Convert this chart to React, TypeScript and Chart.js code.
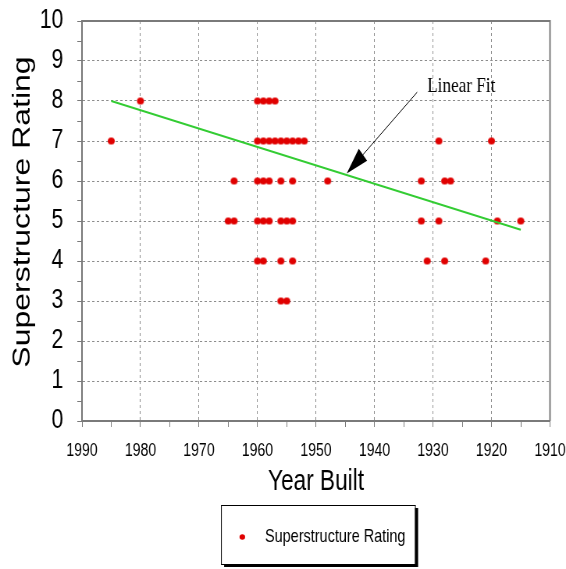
import { useEffect, useRef } from 'react';
import { Chart, registerables } from 'chart.js';

Chart.register(...registerables);

// ---- data ----
const yearBuilt = [
  1980, 1960, 1959, 1958, 1957,
  1985, 1960, 1959, 1958, 1957, 1956, 1955, 1954, 1953, 1952, 1929, 1920,
  1964, 1960, 1959, 1958, 1956, 1954, 1948, 1932, 1928, 1927,
  1965, 1964, 1960, 1959, 1958, 1956, 1955, 1954, 1932, 1929, 1919, 1915,
  1960, 1959, 1956, 1954, 1931, 1928, 1921,
  1956, 1955,
];
const rating = [
  8, 8, 8, 8, 8,
  7, 7, 7, 7, 7, 7, 7, 7, 7, 7, 7, 7,
  6, 6, 6, 6, 6, 6, 6, 6, 6, 6,
  5, 5, 5, 5, 5, 5, 5, 5, 5, 5, 5, 5,
  4, 4, 4, 4, 4, 4, 4,
  3, 3,
];
const fitYears = [1985, 1915];
const fitRatings = [8.0, 4.78];

const xMin = 1910;
const xMax = 1990;
const xMajorStep = 10;
const xMinorStep = 5;
const yMin = 0;
const yMax = 10;
const yMinorStep = 0.5;

const seriesLabel = 'Superstructure Rating';
const xTitle = 'Year Built';
const yTitle = 'Superstructure Rating';
const annotationText = 'Linear Fit';
const annotationTextAt = [1931, 8.22];
const arrowFrom = [1932.7, 8.22];
const arrowTo = [1944.75, 6.19];

// ---- rendering geometry (canvas is drawn wide, then shown narrower) ----
const DISPLAY_W = 566;
const DISPLAY_H = 569;
const SQUEEZE = 0.7807;
const CANVAS_W = Math.round(DISPLAY_W / SQUEEZE);
const CANVAS_H = DISPLAY_H;

const SANS = '"Liberation Sans", Arial, Helvetica, sans-serif';
const SERIF = '"Liberation Serif", "Times New Roman", serif';
const RED = '#e00000';
const GREEN = '#33cc33';
const AXIS_GRAY = '#7a7a7a';
const GRID_GRAY = '#8c8c8c';

function makeDot(r: number): HTMLCanvasElement {
  const rx = r / SQUEEZE;
  const ry = r;
  const c = document.createElement('canvas');
  c.width = Math.ceil(rx * 2 + 2);
  c.height = Math.ceil(ry * 2 + 2);
  const g = c.getContext('2d')!;
  g.fillStyle = RED;
  g.beginPath();
  g.ellipse(c.width / 2, c.height / 2, rx, ry, 0, 0, Math.PI * 2);
  g.fill();
  return c;
}

const framePlugin = {
  id: 'frame',
  afterDatasetsDraw(chart: any) {
    const { ctx, chartArea } = chart;
    ctx.save();
    ctx.strokeStyle = AXIS_GRAY;
    ctx.lineWidth = 2;
    ctx.beginPath();
    ctx.moveTo(chartArea.left, chartArea.top);
    ctx.lineTo(chartArea.right, chartArea.top);
    ctx.lineTo(chartArea.right, chartArea.bottom);
    ctx.stroke();
    ctx.restore();
  },
};

const yTitlePlugin = {
  id: 'yTitle',
  afterDraw(chart: any) {
    const { ctx } = chart;
    ctx.save();
    ctx.translate(29.5, 212);
    ctx.rotate(-Math.PI / 2);
    ctx.font = `32px ${SANS}`;
    ctx.fillStyle = '#000';
    ctx.textAlign = 'center';
    ctx.textBaseline = 'middle';
    ctx.fillText(yTitle, 0, 0);
    ctx.restore();
  },
};

const annotationPlugin = {
  id: 'fitAnnotation',
  afterDraw(chart: any) {
    const { ctx } = chart;
    const xs = chart.scales.x;
    const ys = chart.scales.y;
    const x1 = xs.getPixelForValue(arrowFrom[0]);
    const y1 = ys.getPixelForValue(arrowFrom[1]);
    const x2 = xs.getPixelForValue(arrowTo[0]);
    const y2 = ys.getPixelForValue(arrowTo[1]);
    const ang = Math.atan2(y2 - y1, x2 - x1);
    const headLen = 28;
    const headHalf = 8;
    const bx = x2 - Math.cos(ang) * headLen;
    const by = y2 - Math.sin(ang) * headLen;
    ctx.save();
    ctx.strokeStyle = '#000';
    ctx.lineWidth = 1;
    ctx.beginPath();
    ctx.moveTo(x1, y1);
    ctx.lineTo(bx, by);
    ctx.stroke();
    ctx.fillStyle = '#000';
    ctx.beginPath();
    ctx.moveTo(x2, y2);
    ctx.lineTo(bx + Math.cos(ang + Math.PI / 2) * headHalf, by + Math.sin(ang + Math.PI / 2) * headHalf);
    ctx.lineTo(bx + Math.cos(ang - Math.PI / 2) * headHalf, by + Math.sin(ang - Math.PI / 2) * headHalf);
    ctx.closePath();
    ctx.fill();
    ctx.font = `22px ${SERIF}`;
    ctx.textAlign = 'left';
    ctx.textBaseline = 'alphabetic';
    ctx.fillText(annotationText, xs.getPixelForValue(annotationTextAt[0]), ys.getPixelForValue(annotationTextAt[1]));
    ctx.restore();
  },
};

const legendPlugin = {
  id: 'boxLegend',
  afterDraw(chart: any) {
    const { ctx } = chart;
    const bx = 221 / SQUEEZE;
    const bw = (415 - 221) / SQUEEZE;
    const by = 505;
    const bh = 59;
    const label = chart.data.datasets[1].label;
    ctx.save();
    ctx.fillStyle = '#000';
    ctx.fillRect(bx + 4, by + 3, bw, bh);
    ctx.fillStyle = '#fff';
    ctx.fillRect(bx, by, bw, bh);
    ctx.strokeStyle = '#000';
    ctx.lineWidth = 1;
    ctx.strokeRect(bx + 0.5, by + 0.5, bw, bh);
    const cy = by + 32;
    ctx.fillStyle = RED;
    ctx.beginPath();
    ctx.ellipse(242.3 / SQUEEZE, cy, 2.8 / SQUEEZE, 2.8, 0, 0, Math.PI * 2);
    ctx.fill();
    ctx.fillStyle = '#000';
    ctx.font = `18.5px ${SANS}`;
    ctx.textAlign = 'left';
    ctx.textBaseline = 'middle';
    ctx.fillText(label, 265 / SQUEEZE, cy);
    ctx.restore();
  },
};

export default function App() {
  const canvasRef = useRef<HTMLCanvasElement | null>(null);

  useEffect(() => {
    const canvas = canvasRef.current;
    if (!canvas) return;
    const dot = makeDot(3.5);
    const points = yearBuilt.map((yr, i) => ({ x: yr, y: rating[i] }));
    const fit = fitYears.map((yr, i) => ({ x: yr, y: fitRatings[i] }));

    const chart = new Chart(canvas, {
      type: 'scatter',
      data: {
        datasets: [
          {
            type: 'line',
            label: 'Linear Fit',
            data: fit,
            borderColor: GREEN,
            borderWidth: 2.2,
            pointRadius: 0,
            fill: false,
            order: 1,
          } as any,
          {
            type: 'scatter',
            label: seriesLabel,
            data: points,
            pointStyle: dot as any,
            pointRadius: 4,
            backgroundColor: RED,
            borderColor: RED,
            order: 2,
          },
        ],
      },
      options: {
        responsive: false,
        devicePixelRatio: 1,
        animation: false,
        layout: { padding: { left: 0, top: 21, right: CANVAS_W - 550 / SQUEEZE, bottom: CANVAS_H - 421 - 80 } },
        plugins: {
          legend: { display: false },
          tooltip: { enabled: false },
        },
        scales: {
          x: {
            type: 'linear',
            min: xMin,
            max: xMax,
            reverse: true,
            afterFit: (s: any) => {
              s.height = 80;
              s.paddingLeft = 0;
              s.paddingRight = 0;
            },
            ticks: {
              stepSize: xMinorStep,
              autoSkip: false,
              maxRotation: 0,
              minRotation: 0,
              padding: 13,
              color: '#000',
              font: { family: SANS, size: 18 },
              callback: (v: any) => (Number(v) % xMajorStep === 0 ? String(v) : ''),
            },
            grid: {
              color: (c: any) => (c.tick && c.tick.value % xMajorStep === 0 ? GRID_GRAY : 'rgba(0,0,0,0)'),
              lineWidth: 1,
              tickLength: 6,
              tickColor: AXIS_GRAY,
              tickWidth: 1,
            },
            border: { display: true, color: AXIS_GRAY, width: 2, dash: [3, 3] },
            title: {
              display: true,
              text: xTitle,
              color: '#000',
              font: { family: SANS, size: 29 },
              padding: { top: 0, bottom: 2 },
            },
          },
          y: {
            type: 'linear',
            min: yMin,
            max: yMax,
            afterFit: (s: any) => {
              s.width = 105;
              s.paddingTop = 0;
              s.paddingBottom = 0;
            },
            ticks: {
              stepSize: yMinorStep,
              autoSkip: false,
              padding: 18,
              color: '#000',
              font: { family: SANS, size: 27 },
              callback: (v: any) => (Number.isInteger(Number(v)) ? String(v) : ''),
            },
            grid: {
              color: (c: any) => (c.tick && Number.isInteger(c.tick.value) ? GRID_GRAY : 'rgba(0,0,0,0)'),
              lineWidth: 1,
              tickLength: 6,
              tickColor: AXIS_GRAY,
              tickWidth: 1,
            },
            border: { display: true, color: AXIS_GRAY, width: 2, dash: [3, 3] },
            title: { display: false, text: yTitle },
          },
        },
      },
      plugins: [framePlugin, yTitlePlugin, annotationPlugin, legendPlugin],
    });
    return () => chart.destroy();
  }, []);

  return (
    <div style={{ position: 'fixed', left: 0, top: 0, width: DISPLAY_W, height: DISPLAY_H, background: '#fff' }}>
      <canvas
        ref={canvasRef}
        width={CANVAS_W}
        height={CANVAS_H}
        style={{ display: 'block', width: `${DISPLAY_W}px`, height: `${DISPLAY_H}px` }}
      />
    </div>
  );
}
